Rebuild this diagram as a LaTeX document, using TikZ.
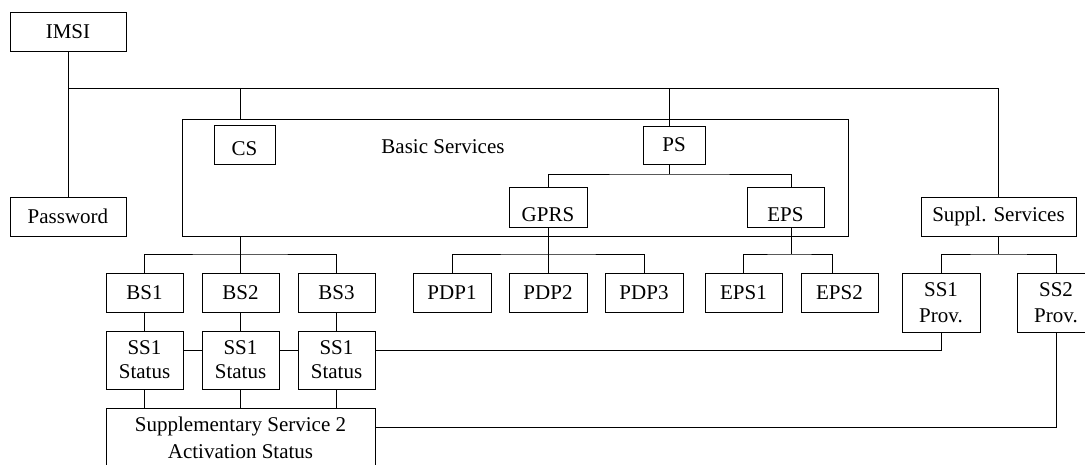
\documentclass[tikz,border=0pt]{standalone}
\usepackage{fontspec}
\setmainfont{Liberation Serif}
\tikzset{
  bx/.style={draw=black, line width=0.9pt, inner sep=0pt, text height=14pt, text depth=0pt, font=\fontsize{21}{24}\selectfont},
  bxm/.style={draw=black, line width=0.9pt, inner sep=0pt, align=center, font=\fontsize{21}{24}\selectfont},
  ln/.style={line width=0.9pt, draw=black},
}
\begin{document}
\begin{tikzpicture}[x=1pt, y=-1pt]
\useasboundingbox (0,0) rectangle (1085,465);
\clip (0,0) rectangle (1085,465);
% level coordinates
\coordinate (y1) at (0,88);
\coordinate (y2) at (0,174);
\coordinate (y3) at (0,254);
\coordinate (y4) at (0,350);
\coordinate (y5) at (0,427);
\coordinate (xb) at (240,0);
\coordinate (xp) at (669,0);
% nodes
\node[bx, minimum width=116pt, minimum height=39pt] (imsi) at (68,31.5) {IMSI};
\node[bx, minimum width=116pt, minimum height=39pt] (pw) at (68,216.5) {Password};
\node[draw=black, line width=0.9pt, inner sep=0pt, minimum width=666pt, minimum height=117pt] (basic) at (515,177.5) {};
\node[font=\fontsize{21}{24}\selectfont, anchor=base, inner sep=0pt] (basiclbl) at (443,154) {Basic Services};
\node[bx, text height=25pt, text depth=2.6pt, minimum width=61pt, minimum height=39pt] (cs) at (244.5,144.5) {CS};
\node[bx, minimum width=62pt, minimum height=38pt] (ps) at (674,145) {PS};
\node[bx, text height=32pt, text depth=2pt, minimum width=78pt, minimum height=40pt] (gprs) at (548,207) {GPRS};
\node[bx, text height=32pt, text depth=2pt, minimum width=77pt, minimum height=40pt] (eps) at (785.5,207) {EPS};
\node[bx, text height=14pt, text depth=4pt, minimum width=155pt, minimum height=39pt] (supp) at (998.5,216.5) {Suppl. Services};
% BS
\node[bx, minimum width=77pt, minimum height=39pt] (bs1) at (144.5,292.5) {BS1};
\node[bx, minimum width=77pt, minimum height=39pt] (bs2) at (240.5,292.5) {BS2};
\node[bx, minimum width=77pt, minimum height=39pt] (bs3) at (336.5,292.5) {BS3};
% PDP
\node[bx, minimum width=78pt, minimum height=39pt] (pdp1) at (452,292.5) {PDP1};
\node[bx, minimum width=78pt, minimum height=39pt] (pdp2) at (548,292.5) {PDP2};
\node[bx, minimum width=78pt, minimum height=39pt] (pdp3) at (644,292.5) {PDP3};
% EPS bearers
\node[bx, minimum width=77pt, minimum height=39pt] (e1) at (743.5,292.5) {EPS1};
\node[bx, minimum width=77pt, minimum height=39pt] (e2) at (839.5,292.5) {EPS2};
% SS prov
\node[bxm, font=\fontsize{21}{26}\selectfont, minimum width=78pt, minimum height=59pt] (sp1) at (941,302.5) {SS1\\Prov.};
\node[bxm, font=\fontsize{21}{26}\selectfont, minimum width=78pt, minimum height=59pt] (sp2) at (1056,302.5) {SS2\\Prov.};
% SS1 status
\node[bxm, minimum width=77pt, minimum height=58pt] (st1) at (144.5,360) {SS1\\Status};
\node[bxm, minimum width=77pt, minimum height=58pt] (st2) at (240.5,360) {SS1\\Status};
\node[bxm, minimum width=77pt, minimum height=58pt] (st3) at (336.5,360) {SS1\\Status};
% SS2 activation
\node[bxm, font=\fontsize{21}{27}\selectfont, minimum width=269pt, minimum height=60pt] (ss2) at (240.5,438) {Supplementary Service 2\\Activation Status};
% connectors
\draw[ln] (imsi.south) -- (pw.north);
\draw[ln] (imsi.south |- y1) -| (supp.north);
\draw[ln] (xb |- y1) -- (xb |- basic.north);
\draw[ln] (xp |- y1) -- (xp |- ps.north);
\draw[ln] (xp |- ps.south) -- (xp |- y2);
\draw[ln] (gprs.north) |- (xp |- y2) -| ([xshift=5.5pt]eps.north);
\draw[ln] (xb |- basic.south) -- (xb |- y3);
\draw[ln] (bs1.north) |- (xb |- y3) -| (bs3.north);
\draw[ln] (bs2.north) -- (bs2.north |- y3);
\draw[ln] (gprs.south) -- (gprs.south |- y3);
\draw[ln] (pdp1.north) |- (gprs.south |- y3) -| (pdp3.north);
\draw[ln] (pdp2.north) -- (pdp2.north |- y3);
\draw[ln] ([xshift=5.5pt]eps.south) -- ([xshift=5.5pt]eps.south |- y3);
\draw[ln] (e1.north) |- ([xshift=5.5pt]eps.south |- y3) -| ([xshift=-7.5pt]e2.north);
\draw[ln] (supp.south) -- (supp.south |- y3);
\draw[ln] (sp1.north) |- (supp.south |- y3) -| (sp2.north);
\draw[ln] (bs1.south) -- (st1.north);
\draw[ln] (bs2.south) -- (st2.north);
\draw[ln] (bs3.south) -- (st3.north);
\draw[ln] (st1.east |- y4) -- (st2.west |- y4);
\draw[ln] (st2.east |- y4) -- (st3.west |- y4);
\draw[ln] (st3.east |- y4) -| (sp1.south);
\draw[ln] (st1.south) -- (st1.south |- ss2.north);
\draw[ln] (st2.south) -- (st2.south |- ss2.north);
\draw[ln] (st3.south) -- (st3.south |- ss2.north);
\draw[ln] (ss2.east |- y5) -| (sp2.south);
\end{tikzpicture}
\end{document}
